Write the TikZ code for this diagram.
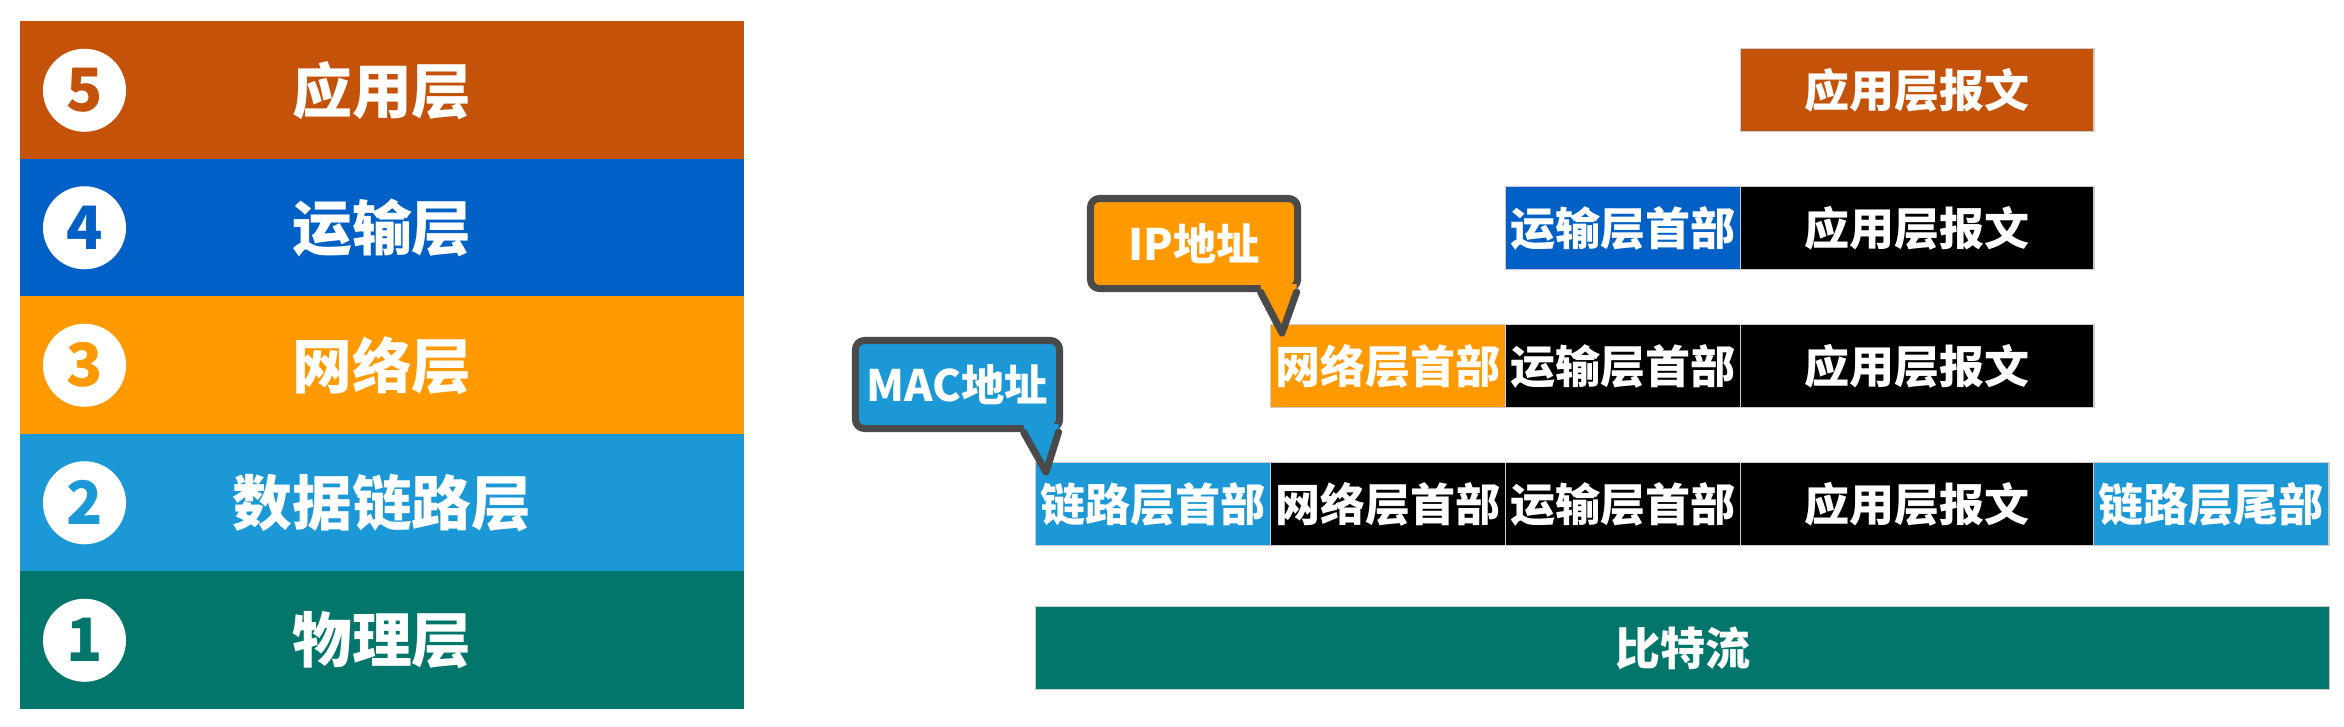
\documentclass[tikz,border=0pt]{standalone}
\usepackage{fontspec}
\setmainfont{Noto Sans CJK SC}
\usepackage{tikz}

\definecolor{appc}{HTML}{C55209}
\definecolor{trac}{HTML}{0060C6}
\definecolor{netc}{HTML}{FF9900}
\definecolor{linkc}{HTML}{1B98D5}
\definecolor{phyc}{HTML}{03766C}
\definecolor{notec}{HTML}{4A4A4A}

\tikzset{
  layer/.style = {minimum width = 7.24cm, minimum height = 1.375cm, inner sep = 0pt, text = white, font = \bfseries\fontsize{17pt}{17pt}\selectfont},
  badge/.style = {circle, fill = white, minimum size = 0.83cm, inner sep = 0pt, font = \bfseries\fontsize{17pt}{17pt}\selectfont},
  cell/.style = {anchor = north west, minimum width = 2.35cm, minimum height = 0.83cm, inner sep = 0pt, text = white, draw = white!80!black, line width = 0.4pt, font = \bfseries\fontsize{12.8pt}{13pt}\selectfont},
  body/.style = {cell, minimum width = 3.53cm, fill = black},
  note/.style = {rounded corners = 0.09cm, draw = notec, line width = 2pt, inner sep = 0pt, text = white, font = \bfseries\fontsize{12.3pt}{13pt}\selectfont},
  pointer/.style = {draw = notec, line width = 2pt, line cap = round, line join = round}
}

\begin{document}
\begin{tikzpicture}[x = 0.01cm, y = -0.01cm]
  \useasboundingbox (0, 0) rectangle (2344, 726);
  \foreach \n/\txt/\col in {5/应用层/appc, 4/运输层/trac, 3/网络层/netc, 2/数据链路层/linkc, 1/物理层/phyc}
  {
  \node[layer, fill = \col] (layer\n) at (382, {777.75 - 137.5*\n}) {\txt};
  \node[badge, text = \col] (num\n) at (84.5, {777.75 - 137.5*\n}) {\n};
  }
  \node[body, fill = appc] at (1740, 48) (msg5) {应用层报文};
  \node[cell, fill = trac] at (1505, 186) (tra4) {运输层首部};
  \node[body] at (1740, 186) (msg4) {应用层报文};
  \node[cell, fill = netc] at (1270, 324) (net3) {网络层首部};
  \node[cell, fill = black] at (1505, 324) (tra3) {运输层首部};
  \node[body] at (1740, 324) (msg3) {应用层报文};
  \node[cell, fill = linkc] at (1035, 462) (lnkh2) {链路层首部};
  \node[cell, fill = black] at (1270, 462) (net2) {网络层首部};
  \node[cell, fill = black] at (1505, 462) (tra2) {运输层首部};
  \node[body] at (1740, 462) (msg2) {应用层报文};
  \node[cell, fill = linkc] at (2093, 462) (lnkt2) {链路层尾部};
  \node[cell, fill = phyc, minimum width = 12.93cm] at (1035, 606) (bits1) {比特流};
  \node[note, fill = netc, minimum width = 2.07cm, minimum height = 0.9cm] at (1194, 243.5) (ipnote) {IP地址};
  \coordinate (iptip) at (1282, 333);
  \fill[netc] ([xshift = -0.405cm, yshift = 0.08cm]ipnote.south east) -- ([xshift = -0.405cm]ipnote.south east) -- (iptip) -- ([xshift = -0.045cm]ipnote.south east) -- ([xshift = -0.045cm, yshift = 0.08cm]ipnote.south east) -- cycle;
  \draw[pointer] ([xshift = -0.405cm]ipnote.south east) -- (iptip) -- ([xshift = -0.045cm]ipnote.south east);
  \node[note, fill = linkc, minimum width = 2.04cm, minimum height = 0.88cm] at (957.5, 384.5) (macnote) {MAC地址};
  \coordinate (mactip) at (1046, 472);
  \fill[linkc] ([xshift = -0.395cm, yshift = 0.08cm]macnote.south east) -- ([xshift = -0.395cm]macnote.south east) -- (mactip) -- ([xshift = -0.045cm]macnote.south east) -- ([xshift = -0.045cm, yshift = 0.08cm]macnote.south east) -- cycle;
  \draw[pointer] ([xshift = -0.395cm]macnote.south east) -- (mactip) -- ([xshift = -0.045cm]macnote.south east);
\end{tikzpicture}
\end{document}
